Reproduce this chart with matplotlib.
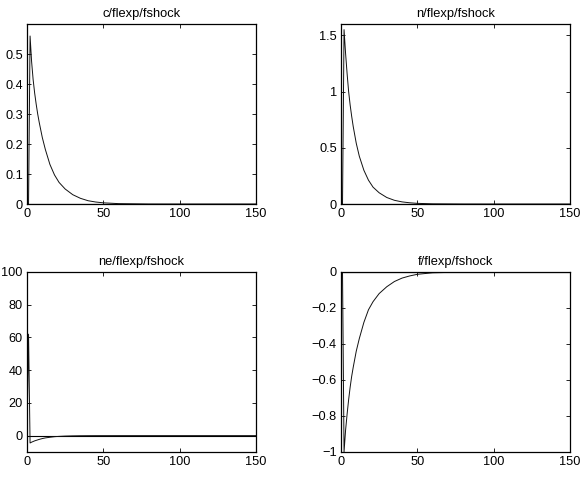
"""
Impulse responses to the f shock under flexible prices: four panels (c, n, ne, f).
Values are read off the original figure at a few horizons and joined by lines.
"""

import matplotlib

matplotlib.use("Agg")
import matplotlib.pyplot as plt  # noqa: E402
from matplotlib.ticker import FuncFormatter  # noqa: E402

plt.rcParams["font.family"] = ["Liberation Sans", "DejaVu Sans"]
plt.rcParams["font.size"] = 9

# horizons at which the responses were read
T = [0, 1, 2, 3, 4, 5, 6, 7, 8, 10, 12, 15, 18, 21, 25, 30, 35, 40, 45, 50, 60, 80, 100, 150]

C_RESP = [0, 0, 0.56, 0.475, 0.415, 0.37, 0.333, 0.3, 0.272, 0.222, 0.182, 0.132,
          0.097, 0.072, 0.05, 0.031, 0.019, 0.011, 0.0067, 0.004, 0.0013, 0.0001, 0, 0]
N_RESP = [0, 0, 1.55, 1.34, 1.16, 1.0, 0.88, 0.78, 0.69, 0.54, 0.425, 0.3,
          0.212, 0.15, 0.1, 0.058, 0.033, 0.019, 0.011, 0.006, 0.0018, 0.0002, 0, 0]
NE_RESP = [0, 62, -4.5, -4.0, -3.6, -3.2, -2.9, -2.6, -2.3, -1.8, -1.4, -1.0,
           -0.65, -0.45, -0.27, -0.14, -0.07, -0.035, -0.018, -0.01, -0.003, 0, 0, 0]
F_RESP = [0, 0, -1.0, -0.88, -0.79, -0.71, -0.64, -0.58, -0.53, -0.44, -0.37, -0.28,
          -0.21, -0.165, -0.12, -0.082, -0.053, -0.034, -0.022, -0.013, -0.0045, -0.0005, 0, 0]

PANELS = [
    ("c/flexp/fshock", C_RESP, (0, 0.6), [0, 0.1, 0.2, 0.3, 0.4, 0.5]),
    ("n/flexp/fshock", N_RESP, (0, 1.6), [0, 0.5, 1, 1.5]),
    ("ne/flexp/fshock", NE_RESP, (-10, 100), [0, 20, 40, 60, 80, 100]),
    ("f/flexp/fshock", F_RESP, (-1, 0), [-1, -0.8, -0.6, -0.4, -0.2, 0]),
]

# axes rectangles in figure fractions (left, bottom, width, height)
RECTS = [
    (0.0465, 0.5776, 0.394, 0.3727),
    (0.5869, 0.5776, 0.394, 0.3727),
    (0.0465, 0.0642, 0.394, 0.3727),
    (0.5869, 0.0642, 0.394, 0.3727),
]


def _fmt(v, _pos):
    return f"{v:g}".replace("-", "\u2212")


def main() -> None:
    fig = plt.figure(figsize=(5.81, 4.83), dpi=100)
    for (title, resp, ylim, yticks), rect in zip(PANELS, RECTS):
        ax = fig.add_axes(rect)
        ax.axhline(0, color="black", lw=0.8)
        ax.plot(T, resp, color="#111111", lw=0.7)
        ax.set_xlim(0, 150)
        ax.set_ylim(*ylim)
        ax.set_xticks([0, 50, 100, 150])
        ax.set_yticks(yticks)
        ax.xaxis.set_major_formatter(FuncFormatter(_fmt))
        ax.yaxis.set_major_formatter(FuncFormatter(_fmt))
        ax.tick_params(direction="in", length=3, width=0.6, top=True, right=True,
                       labelsize=9.2, pad=3)
        for sp in ax.spines.values():
            sp.set_linewidth(0.9)
        ax.set_title(title, fontsize=9.3, pad=5)
    fig.savefig("out.png", dpi=100)
    plt.close(fig)


if __name__ == "__main__":
    main()
